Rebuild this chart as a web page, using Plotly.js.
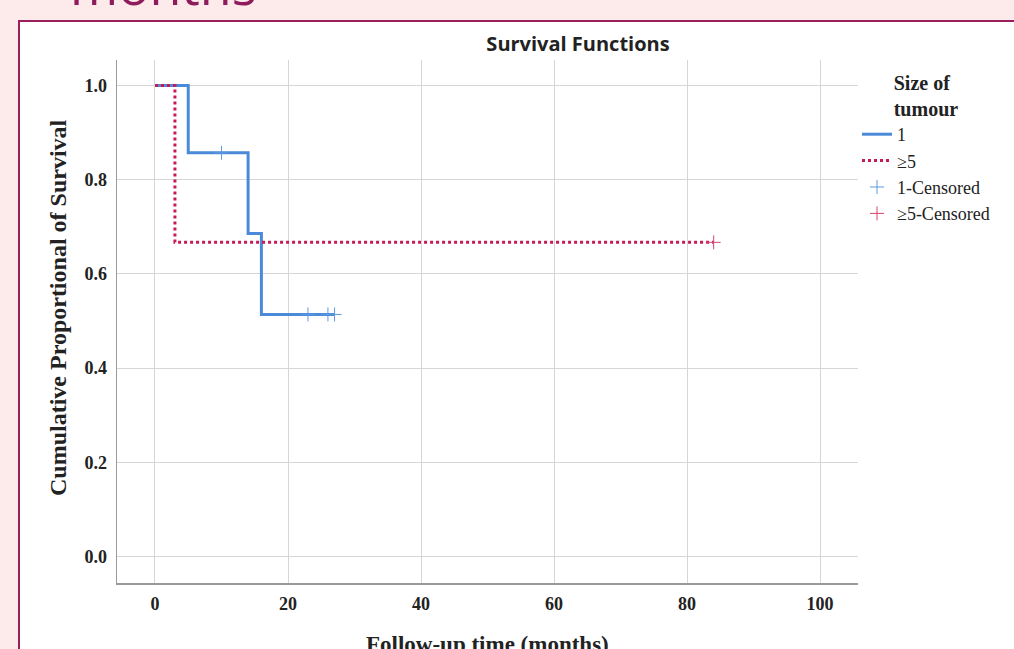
<!DOCTYPE html>
<html>
<head>
<meta charset="utf-8">
<script src="https://cdn.plot.ly/plotly-3.0.1.min.js"></script>
<style>html,body{margin:0;padding:0;background:#fdeaea;}#chart{width:1014px;height:649px;}</style>
</head>
<body>
<div id="chart"></div>
<script>
// Kaplan-Meier data
const groupNames = ["1", "≥5", "1-Censored", "≥5-Censored"];
const timeOne = [0, 5, 14, 16, 27];
const survOne = [1.0, 0.857, 0.686, 0.514, 0.514];
const censorOneT = [10, 23, 26, 27];
const censorOneS = [0.857, 0.514, 0.514, 0.514];
const timeFive = [0, 3, 84];
const survFive = [1.0, 0.667, 0.667];
const censorFiveT = [84];
const censorFiveS = [0.667];
const xTicks = [0, 20, 40, 60, 80, 100];
const yTicks = [0.0, 0.2, 0.4, 0.6, 0.8, 1.0];
const yTickText = ["0.0", "0.2", "0.4", "0.6", "0.8", "1.0"];

const W = 1014, H = 649;
const L = 117, R = 858, T = 60, B = 583;
const pw = R - L, ph = B - T;
const px = v => (v - L) / pw;
const py = v => (B - v) / ph;

const blue = "#4a8ad8";
const red = "#c51a55";

const traces = [
  {x: timeOne, y: survOne, name: groupNames[0], mode: "lines", line: {shape: "hv", color: blue, width: 3}},
  {x: timeFive, y: survFive, name: groupNames[1], mode: "lines", line: {shape: "hv", color: red, width: 3, dash: "dot"}},
  {x: censorOneT, y: censorOneS, name: groupNames[2], mode: "markers",
   marker: {symbol: "cross-thin", size: 10, color: "#5b9be0", line: {color: "#5b9be0", width: 1}}},
  {x: censorFiveT, y: censorFiveS, name: groupNames[3], mode: "markers",
   marker: {symbol: "cross-thin", size: 10, color: "#d9426f", line: {color: "#d9426f", width: 1}}}
];

const serif = "Liberation Serif, Times New Roman, serif";

const layout = {
  width: W, height: H,
  margin: {l: L, r: W - R, t: T, b: H - B, pad: 0},
  paper_bgcolor: "#fdeaea",
  plot_bgcolor: "#ffffff",
  showlegend: true,
  title: {text: "<b>Survival Functions</b>", xref: "paper", x: px(578), xanchor: "center",
          yref: "container", y: 1 - 44 / H, yanchor: "middle",
          font: {family: "Open Sans, sans-serif", size: 20, color: "#222"}},
  xaxis: {range: [-5.71, 105.7], tickvals: xTicks, ticktext: xTicks.map(String),
          showgrid: true, gridcolor: "#d6d6d6", gridwidth: 1, zeroline: false,
          showline: true, linecolor: "#9a9a9a", linewidth: 1.5, ticks: "", ticklabelstandoff: 4,
          tickfont: {family: serif, size: 18, color: "#222", weight: "bold"}},
  yaxis: {range: [-0.056, 1.054], tickvals: yTicks, ticktext: yTickText,
          showgrid: true, gridcolor: "#d6d6d6", gridwidth: 1, zeroline: false,
          showline: true, linecolor: "#9a9a9a", linewidth: 1.5, ticks: "", ticklabelstandoff: 5,
          tickfont: {family: serif, size: 18, color: "#222", weight: "bold"}},
  legend: {x: px(857), xanchor: "left", y: py(64), yanchor: "top", bgcolor: "rgba(0,0,0,0)",
           font: {family: serif, size: 18, color: "#222"}, tracegroupgap: 0, itemwidth: 30,
           title: {text: "<b>Size of<br>tumour</b>", side: "top center", font: {family: serif, size: 20, color: "#222"}}},
  shapes: [
    {type: "rect", xref: "paper", yref: "paper", layer: "below",
     x0: px(19), x1: px(1030), y0: py(665), y1: py(21),
     fillcolor: "#ffffff", line: {color: "#9a1f5e", width: 2}}
  ],
  annotations: [
    {text: "<b>Cumulative Proportional of Survival</b>", xref: "paper", yref: "paper",
     x: px(58), y: py(308), xanchor: "center", yanchor: "middle", textangle: -90, showarrow: false,
     font: {family: serif, size: 24, color: "#222"}},
    {text: "<b>Follow-up time (months)</b>", xref: "paper", yref: "paper",
     x: px(488), y: py(644), xanchor: "center", yanchor: "middle", showarrow: false,
     font: {family: serif, size: 23, color: "#222"}},
    {text: "months", xref: "paper", yref: "paper",
     x: px(68), y: py(22), xanchor: "left", yanchor: "bottom", showarrow: false,
     font: {family: "Open Sans, sans-serif", size: 52, color: "#8e1b5c"}}
  ]
};

Plotly.newPlot("chart", traces, layout, {displayModeBar: false, staticPlot: true});
</script>
</body>
</html>
